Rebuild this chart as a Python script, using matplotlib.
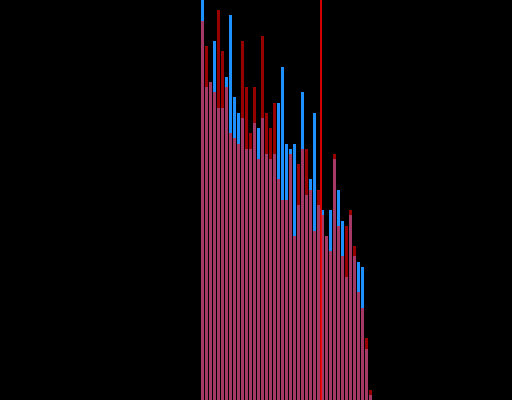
import matplotlib
matplotlib.use("Agg")
import matplotlib.pyplot as plt
import numpy as np

# ---- counts per bin ----
blue_counts = [82, 61, 62, 70, 57, 57, 63, 75, 59, 56, 55, 49, 49, 54, 53, 55,
               48, 47, 48, 58, 65, 50, 49, 50, 38, 60, 40, 43, 56, 38, 37, 32,
               37, 47, 41, 35, 24, 36, 28, 27, 26, 10, 1]
red_counts = [74, 69, 62, 60, 76, 68, 61, 52, 51, 50, 70, 61, 52, 61, 47, 71,
              56, 53, 58, 43, 39, 39, 48, 32, 46, 49, 49, 41, 33, 41, 36, 32,
              29, 48, 34, 28, 34, 37, 30, 21, 18, 12, 2]
marker_x = 29.55

C_BLUE = "#1E90FF"
C_RED = "#FF0000"

bins = np.arange(len(blue_counts))

fig = plt.figure(figsize=(5.12, 4.0), dpi=100, facecolor="black")
ax = fig.add_axes([0, 0, 1, 1])
ax.set_facecolor("black")
ax.bar(bins, blue_counts, width=0.75, color=C_BLUE, lw=0)
ax.bar(bins, red_counts, width=0.75, color=C_RED, alpha=0.6, lw=0)
ax.axvline(marker_x, color=C_RED, lw=1.2)
ax.set_xlim(-50.625, 77.375)
ax.set_ylim(0, 78)
ax.axis("off")

fig.savefig("out.png", dpi=100, facecolor="black")
